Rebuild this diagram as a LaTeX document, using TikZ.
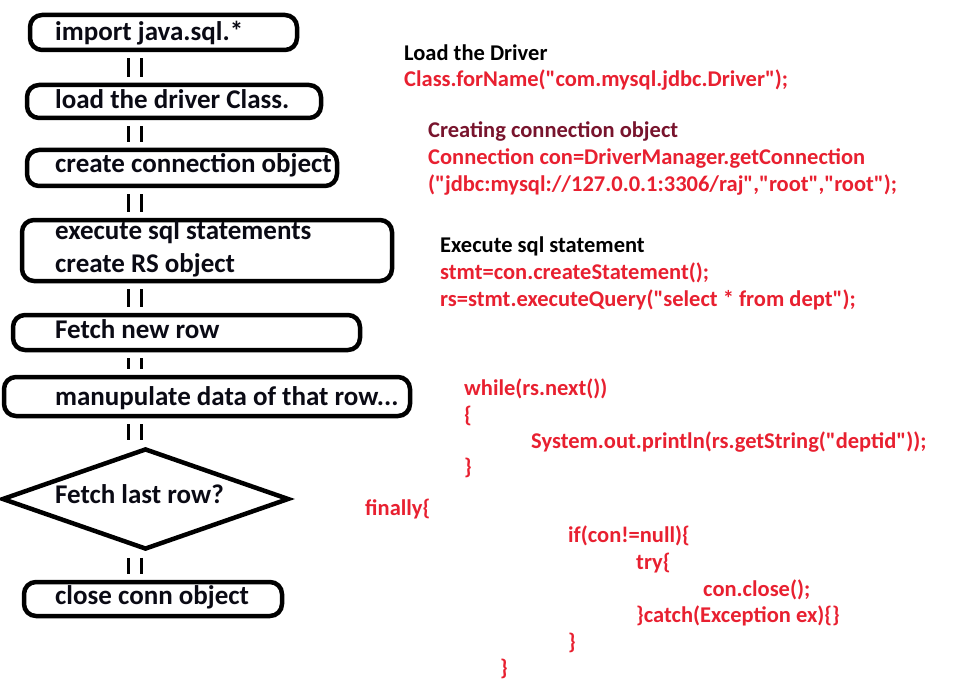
\documentclass[tikz,border=0pt]{standalone}
\usepackage{fontspec}
\setmainfont{Carlito}[Ligatures=TeXOff]
\usetikzlibrary{shapes.geometric}
\definecolor{codered}{RGB}{232,32,48}
\definecolor{headred}{RGB}{120,20,45}
\definecolor{boxtxt}{RGB}{10,10,20}
\begin{document}
\begin{tikzpicture}[x=1pt,y=-1pt,
  box/.style={draw=black,line width=4.5pt,rounded corners=12pt,inner sep=0pt},
  dia/.style={draw=black,line width=4.5pt,diamond,inner sep=0pt},
  btxt/.style={anchor=base west,inner sep=0pt,font=\fontsize{27}{30}\selectfont\bfseries,text=boxtxt},
  ctxt/.style={anchor=base west,inner sep=0pt,font=\fontsize{22.5}{26}\selectfont\bfseries,text=codered},
  htxt/.style={ctxt,text=black},
  link/.style={line width=3pt,shorten <=6pt,shorten >=6pt}]
\useasboundingbox (0,0) rectangle (967,698);
% boxes
\node[box,minimum width=267pt,minimum height=35pt] (b1) at (163.5,32.5) {};
\node[box,minimum width=294pt,minimum height=33pt] (b2) at (174,101.5) {};
\node[box,minimum width=310pt,minimum height=36pt] (b3) at (182,168) {};
\node[box,minimum width=370pt,minimum height=61pt] (b4) at (207,250.5) {};
\node[box,minimum width=347pt,minimum height=35pt] (b5) at (186.5,332.5) {};
\node[box,minimum width=406pt,minimum height=39pt] (b6) at (207,396.5) {};
\node[dia,minimum width=287pt,minimum height=101pt] (d1) at (145.5,499) {};
\node[box,minimum width=258pt,minimum height=34pt] (b7) at (153,599) {};
% box texts
\node[btxt] (t1) at (55,41) {import java.sql.*};
\node[btxt] (t2) at (55,109) {load the driver Class.};
\node[btxt] (t3) at (55,173) {create connection object};
\node[btxt] (t4a) at (55,240) {execute sql statements};
\node[btxt] (t4b) at (55,272) {create RS object};
\node[btxt] (t5) at (55,338) {Fetch new row};
\node[btxt] (t6) at (55,405) {manupulate data of that row...};
\node[btxt] (t7) at (55,503) {Fetch last row?};
\node[btxt] (t8) at (55,604) {close conn object};
% connectors
\coordinate (cl) at (128,0);
\coordinate (cr) at (141,0);
\foreach \a/\b in {b1/b2,b2/b3,b3/b4,b4/b5,b5/b6,b6/d1,d1/b7}{
  \draw[link] (\a.south -| cl) -- (\b.north -| cl);
  \draw[link] (\a.south -| cr) -- (\b.north -| cr);
}
% code texts
\node[htxt] (h1) at (404,61) {Load the Driver};
\node[ctxt] (c1) at (404,87) {Class.forName("com.mysql.jdbc.Driver");};
\node[htxt,text=headred] (h2) at (428,138) {Creating connection object};
\node[ctxt] (c2) at (428,165) {Connection con=DriverManager.getConnection};
\node[ctxt] (c3) at (428,192) {("jdbc:mysql://127.0.0.1:3306/raj","root","root");};
\node[htxt] (h3) at (440,252) {Execute sql statement};
\node[ctxt] (c4) at (440,279) {stmt=con.createStatement();};
\node[ctxt] (c5) at (440,306) {rs=stmt.executeQuery("select * from dept");};
\node[ctxt] (c6) at (464,395) {while(rs.next())};
\node[ctxt] (c7) at (464,422) {\{};
\node[ctxt] (c8) at (531,448) {System.out.println(rs.getString("deptid"));};
\node[ctxt] (c9) at (464,474) {\}};
\node[ctxt] (c10) at (365,515) {finally\{};
\node[ctxt] (c11) at (568,542) {if(con!=null)\{};
\node[ctxt] (c12) at (636,569) {try\{};
\node[ctxt] (c13) at (703,596) {con.close();};
\node[ctxt] (c14) at (636,622) {\}catch(Exception ex)\{\}};
\node[ctxt] (c15) at (568,649) {\}};
\node[ctxt] (c16) at (500,675) {\}};
\end{tikzpicture}
\end{document}
